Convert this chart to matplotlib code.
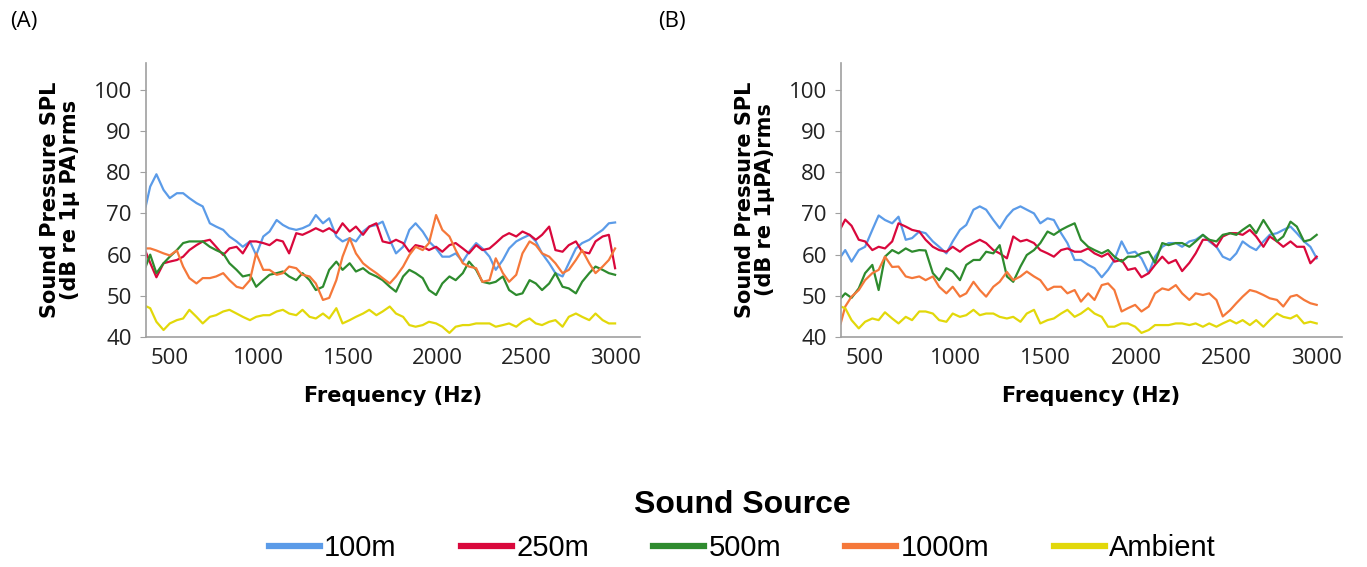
import matplotlib.pyplot as plt

# frequency grid (Hz) shared by all curves
freq = [365, 390, 425, 465, 500, 540, 575, 610, 650, 685, 725, 760, 800, 835, 875, 910,
        950, 985, 1025, 1060, 1100, 1135, 1170, 1210, 1245, 1285, 1320, 1360, 1395, 1435,
        1470, 1510, 1545, 1585, 1620, 1660, 1695, 1735, 1770, 1810, 1845, 1880, 1920, 1955,
        1995, 2030, 2070, 2105, 2145, 2180, 2220, 2255, 2295, 2330, 2370, 2405, 2445, 2480,
        2520, 2555, 2590, 2630, 2665, 2705, 2740, 2780, 2815, 2855, 2890, 2930, 2965, 3000]

# panel A - SPL (dB)
a_100 = [71.7, 76.5, 79.5, 75.7, 73.7, 74.9, 74.9, 73.7, 72.5, 71.7, 67.6, 66.8, 66.0, 64.4,
         63.2, 61.9, 63.2, 59.9, 64.4, 65.6, 68.4, 67.2, 66.4, 66.0, 66.4, 67.2, 69.6, 67.6,
         68.8, 64.4, 63.2, 64.0, 63.2, 65.6, 66.8, 67.2, 68.0, 63.6, 60.3, 61.9, 66.0, 67.6,
         65.6, 63.2, 61.5, 59.5, 59.5, 60.3, 58.3, 60.7, 62.8, 61.5, 59.5, 56.3, 58.7, 61.5,
         63.2, 64.0, 64.8, 63.2, 60.3, 57.9, 55.5, 54.7, 57.9, 61.5, 62.8, 63.6, 64.8, 66.0,
         67.6, 67.8]
a_250 = [60.7, 58.0, 54.5, 57.9, 58.3, 58.7, 59.5, 61.1, 62.3, 63.2, 63.6, 61.9, 59.9, 61.5,
         61.9, 60.3, 63.2, 63.2, 62.8, 62.3, 63.6, 63.2, 60.3, 65.2, 64.8, 65.6, 66.4, 65.6,
         66.4, 65.2, 67.6, 65.6, 66.8, 64.8, 66.8, 67.6, 63.2, 62.8, 63.6, 62.8, 60.7, 62.3,
         61.9, 61.1, 61.9, 60.7, 62.3, 62.8, 61.5, 60.3, 62.3, 61.1, 61.5, 62.8, 64.4, 65.2,
         64.4, 65.6, 64.8, 63.6, 64.8, 66.8, 61.1, 60.7, 62.3, 63.2, 60.7, 60.3, 63.2, 64.4,
         64.8, 56.7]
a_500 = [57.1, 60.0, 55.5, 57.9, 59.5, 61.1, 62.8, 63.2, 63.2, 63.2, 61.9, 61.1, 60.3, 57.9,
         56.3, 54.7, 55.1, 52.2, 53.8, 55.1, 55.5, 55.9, 54.7, 53.8, 55.5, 53.8, 51.4, 52.2,
         56.3, 58.3, 56.3, 57.9, 55.9, 56.7, 55.5, 54.7, 53.8, 52.2, 51.0, 54.7, 56.3, 55.5,
         54.3, 51.4, 50.2, 53.0, 54.7, 53.8, 55.5, 58.3, 56.3, 53.4, 53.0, 53.4, 54.7, 51.4,
         50.2, 50.6, 53.8, 53.0, 51.4, 53.0, 55.5, 52.2, 51.8, 50.6, 53.4, 55.5, 57.1, 56.3,
         55.5, 55.1]
a_1000 = [61.5, 61.5, 61.0, 60.3, 59.8, 61.0, 57.1, 54.3, 53.0, 54.3, 54.3, 54.7, 55.5, 53.8,
          52.2, 51.8, 53.8, 60.3, 56.3, 56.3, 55.1, 55.5, 57.1, 56.7, 55.1, 54.7, 53.0, 49.0,
          49.5, 53.8, 59.5, 64.0, 60.3, 57.9, 56.7, 55.5, 54.3, 53.0, 54.7, 57.1, 59.9, 61.9,
          61.1, 62.8, 69.6, 66.0, 64.4, 61.1, 57.9, 57.1, 56.7, 53.4, 53.8, 59.1, 55.5, 53.4,
          55.1, 60.3, 63.2, 62.3, 60.3, 59.5, 57.9, 55.5, 56.3, 58.7, 61.1, 57.9, 55.5, 57.1,
          58.7, 61.5]
a_amb = [47.5, 47.0, 43.7, 41.7, 43.3, 44.1, 44.5, 46.6, 44.9, 43.3, 44.9, 45.3, 46.2, 46.6,
         45.7, 44.9, 44.1, 44.9, 45.3, 45.3, 46.2, 46.6, 45.7, 45.3, 46.6, 44.9, 44.5, 45.7,
         44.5, 47.0, 43.3, 44.1, 44.9, 45.7, 46.6, 45.3, 46.2, 47.4, 45.7, 44.9, 42.9, 42.5,
         42.9, 43.7, 43.3, 42.5, 41.0, 42.5, 42.9, 42.9, 43.3, 43.3, 43.3, 42.5, 42.9, 43.3,
         42.5, 43.7, 44.5, 43.3, 42.9, 43.7, 44.1, 42.5, 44.9, 45.7, 44.9, 44.1, 45.7, 44.1,
         43.3, 43.3]

# panel B - SPL (dB)
b_100 = [59.5, 61.1, 58.3, 61.1, 61.9, 66.0, 69.5, 68.4, 67.6, 69.2, 63.6, 64.0, 65.6, 65.2,
         63.2, 61.9, 60.3, 63.2, 66.0, 67.2, 70.9, 71.7, 70.9, 68.4, 66.4, 69.2, 70.9, 71.7,
         70.9, 70.0, 67.6, 68.8, 68.4, 65.2, 62.8, 58.7, 58.7, 57.5, 56.7, 54.5, 56.3, 58.7,
         63.2, 60.3, 60.7, 59.1, 55.5, 59.5, 61.9, 62.8, 62.8, 61.9, 63.2, 63.6, 64.8, 63.2,
         61.9, 59.5, 58.7, 60.3, 63.2, 61.9, 61.1, 63.2, 64.8, 65.2, 66.0, 66.8, 65.2, 63.2,
         61.9, 59.1]
b_250 = [66.4, 68.5, 67.0, 63.6, 63.2, 61.1, 61.9, 61.5, 63.2, 67.6, 66.8, 66.0, 65.6, 63.6,
         61.9, 61.1, 60.7, 61.9, 60.7, 61.9, 62.8, 63.6, 62.8, 61.1, 60.3, 59.1, 64.4, 63.2,
         63.6, 62.8, 61.1, 60.3, 59.5, 61.1, 61.5, 60.7, 60.7, 61.5, 60.3, 59.5, 60.3, 58.3,
         58.7, 56.3, 56.7, 54.5, 55.5, 57.5, 59.5, 57.9, 58.7, 56.0, 58.0, 60.3, 63.6, 63.6,
         61.9, 64.4, 65.2, 65.2, 64.8, 66.0, 64.4, 61.9, 64.4, 63.2, 61.9, 63.2, 61.9, 61.9,
         57.9, 59.5]
b_500 = [49.4, 50.6, 49.5, 51.8, 55.5, 57.5, 51.4, 59.5, 61.1, 60.3, 61.5, 60.7, 61.1, 61.0,
         55.5, 53.8, 56.7, 55.9, 53.8, 57.5, 58.7, 58.7, 60.7, 60.3, 62.3, 54.7, 53.4, 57.1,
         59.9, 61.1, 62.8, 65.6, 64.8, 66.0, 66.8, 67.6, 63.6, 61.9, 61.1, 60.3, 61.1, 59.5,
         58.3, 59.5, 59.5, 60.3, 60.7, 58.0, 62.8, 62.3, 62.8, 62.8, 61.9, 63.2, 64.8, 63.6,
         63.2, 64.8, 65.2, 64.8, 66.0, 67.2, 65.2, 68.4, 66.0, 63.2, 64.4, 68.0, 66.8, 63.2,
         63.6, 64.8]
b_1000 = [43.3, 47.4, 49.8, 51.4, 53.8, 55.5, 56.3, 59.5, 57.0, 57.1, 54.7, 54.3, 54.7, 53.8,
          54.7, 52.2, 50.6, 52.2, 49.8, 50.6, 53.4, 51.4, 49.8, 52.2, 53.4, 55.8, 53.8, 54.7,
          55.9, 54.7, 53.8, 51.4, 52.2, 52.2, 50.6, 51.4, 48.6, 50.6, 49.0, 52.6, 53.0, 51.4,
          46.2, 47.0, 47.8, 46.2, 47.4, 50.6, 51.8, 51.4, 52.6, 50.6, 49.0, 50.6, 50.2, 50.6,
          49.0, 45.0, 46.5, 48.2, 49.8, 51.4, 51.0, 50.2, 49.4, 49.0, 47.4, 49.8, 50.2, 49.0,
          48.2, 47.8]
b_amb = [47.4, 47.0, 44.1, 42.1, 43.7, 44.5, 44.1, 46.0, 44.5, 43.3, 44.9, 44.1, 46.2, 46.2,
         45.7, 44.1, 43.7, 45.7, 44.9, 45.3, 46.6, 45.3, 45.7, 45.7, 44.9, 44.5, 44.9, 43.7,
         45.7, 46.6, 43.3, 44.1, 44.5, 45.7, 46.6, 44.9, 45.7, 47.0, 45.7, 44.9, 42.5, 42.5,
         43.3, 43.3, 42.5, 41.0, 41.7, 42.9, 42.9, 42.9, 43.3, 43.3, 42.9, 43.3, 42.5, 43.3,
         42.5, 43.3, 44.1, 43.3, 44.1, 42.9, 44.1, 42.5, 44.1, 45.7, 44.9, 44.5, 45.3, 43.3,
         43.7, 43.3]

labels = ['100m', '250m', '500m', '1000m', 'Ambient']
colors = ['#5b9be8', '#d9083c', '#2e8b2e', '#f5783a', '#e2d80a']
ylabels = ['Sound Pressure SPL\n(dB re 1\u03bc PA)rms', 'Sound Pressure SPL\n(dB re 1\u03bcPA)rms']

fig = plt.figure(figsize=(13.67, 5.67), dpi=100)
axA = fig.add_axes([0.1066, 0.4056, 0.3616, 0.4833])
axB = fig.add_axes([0.615, 0.4056, 0.3667, 0.4833])

panels = [(axA, [a_100, a_250, a_500, a_1000, a_amb]),
          (axB, [b_100, b_250, b_500, b_1000, b_amb])]

for i, (ax, series) in enumerate(panels):
    for vals, lab, col in zip(series, labels, colors):
        ax.plot(freq, vals, color=col, lw=1.6, label=lab)
    ax.set_xlim(365, 3140)
    ax.set_ylim(40, 106.5)
    ax.set_yticks([40, 50, 60, 70, 80, 90, 100])
    ax.set_xticks([500, 1000, 1500, 2000, 2500, 3000])
    for s in ['top', 'right']:
        ax.spines[s].set_visible(False)
    for s in ['left', 'bottom']:
        ax.spines[s].set_color('#a0a0a0')
        ax.spines[s].set_linewidth(1.2)
    ax.tick_params(axis='y', length=4, color='#a0a0a0', pad=6, labelsize=16)
    ax.tick_params(axis='x', length=0, pad=8, labelsize=16)
    for t in ax.get_xticklabels() + ax.get_yticklabels():
        t.set_fontfamily('Open Sans')
        t.set_color('#222222')
    ax.set_xlabel('Frequency (Hz)', fontsize=15, fontweight='bold', labelpad=12)
    ax.set_ylabel(ylabels[i], fontsize=15, fontweight='bold', labelpad=10,
                  multialignment='center', linespacing=1.0)

fig.text(10 / 1367, 1 - 21 / 567, '(A)', fontsize=16, family='Open Sans', va='center')
fig.text(658 / 1367, 1 - 21 / 567, '(B)', fontsize=16, family='Open Sans', va='center')

handles, _ = axA.get_legend_handles_labels()
leg = fig.legend(handles, labels, loc='center', bbox_to_anchor=(0.543, 0.072), ncol=5,
                 frameon=False, title='Sound Source', handlelength=1.75, handletextpad=0.15,
                 columnspacing=2.2,
                 prop={'family': 'Liberation Sans', 'size': 21},
                 title_fontproperties={'family': 'Liberation Sans', 'size': 23, 'weight': 'bold'})
for h in leg.get_lines():
    h.set_linewidth(4.5)

fig.savefig('out.png', dpi=100)
